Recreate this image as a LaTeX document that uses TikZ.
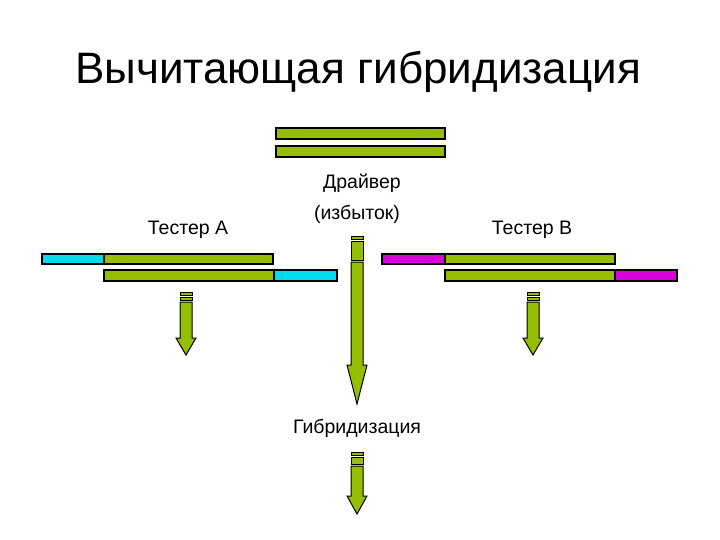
\documentclass[tikz,border=0pt]{standalone}
\usepackage{fontspec}
\setmainfont{Liberation Sans}
\definecolor{dna}{RGB}{150,190,0}
\definecolor{cy}{RGB}{0,220,235}
\definecolor{mg}{RGB}{220,0,220}
\tikzset{bar/.style={draw=black,line width=1.1pt},lbl/.style={font=\fontsize{19.5}{22}\selectfont}}
\newcommand\stripearrow[6]{% x, ytop, yshaft, yhead, yend, half width
 \fill[dna,draw=black,line width=0.8pt] (#1-#6,#2) rectangle (#1+#6,#2+3);
 \fill[dna,draw=black,line width=0.8pt] (#1-#6,#2+5) rectangle (#1+#6,#3-2);
 \fill[dna,draw=black,line width=1pt] (#1-#6,#3) -- (#1+#6,#3) -- (#1+#6,#4) -- (#1+#6+4,#4) -- (#1,#5) -- (#1-#6-4,#4) -- (#1-#6,#4) -- cycle;}
\begin{document}
\begin{tikzpicture}[x=1pt,y=-1pt]
\useasboundingbox (0,0) rectangle (720,540);
\node (title) at (358,72) {\fontsize{44}{48}\selectfont Вычитающая гибридизация};
% driver
\fill[dna,bar] (276,128) rectangle (445,139);
\fill[dna,bar] (276,146) rectangle (445,157);
\node[lbl] (drv) at (362,183) {Драйвер};
\node[lbl] (exc) at (357,214) {(избыток)};
\node[lbl] (ta) at (188,230) {Тестер А};
\node[lbl] (tb) at (532,230) {Тестер В};
% tester A
\fill[cy,bar] (42,254) rectangle (104,264);
\fill[dna,bar] (104,254) rectangle (273,264);
\fill[dna,bar] (104,270) rectangle (274,281);
\fill[cy,bar] (274,270) rectangle (337,281);
% tester B
\fill[mg,bar] (382,254) rectangle (445,264);
\fill[dna,bar] (445,254) rectangle (615,264);
\fill[dna,bar] (445,270) rectangle (615,281);
\fill[mg,bar] (615,270) rectangle (677,281);
% arrows
\stripearrow{186}{292}{302}{338}{355}{6}
\stripearrow{533}{292}{302}{338}{355}{6}
\stripearrow{357}{236}{262}{365}{404}{6}
\stripearrow{357}{452}{466}{496}{514}{6}
\node[lbl] (hyb) at (357,428) {Гибридизация};
\end{tikzpicture}
\end{document}
